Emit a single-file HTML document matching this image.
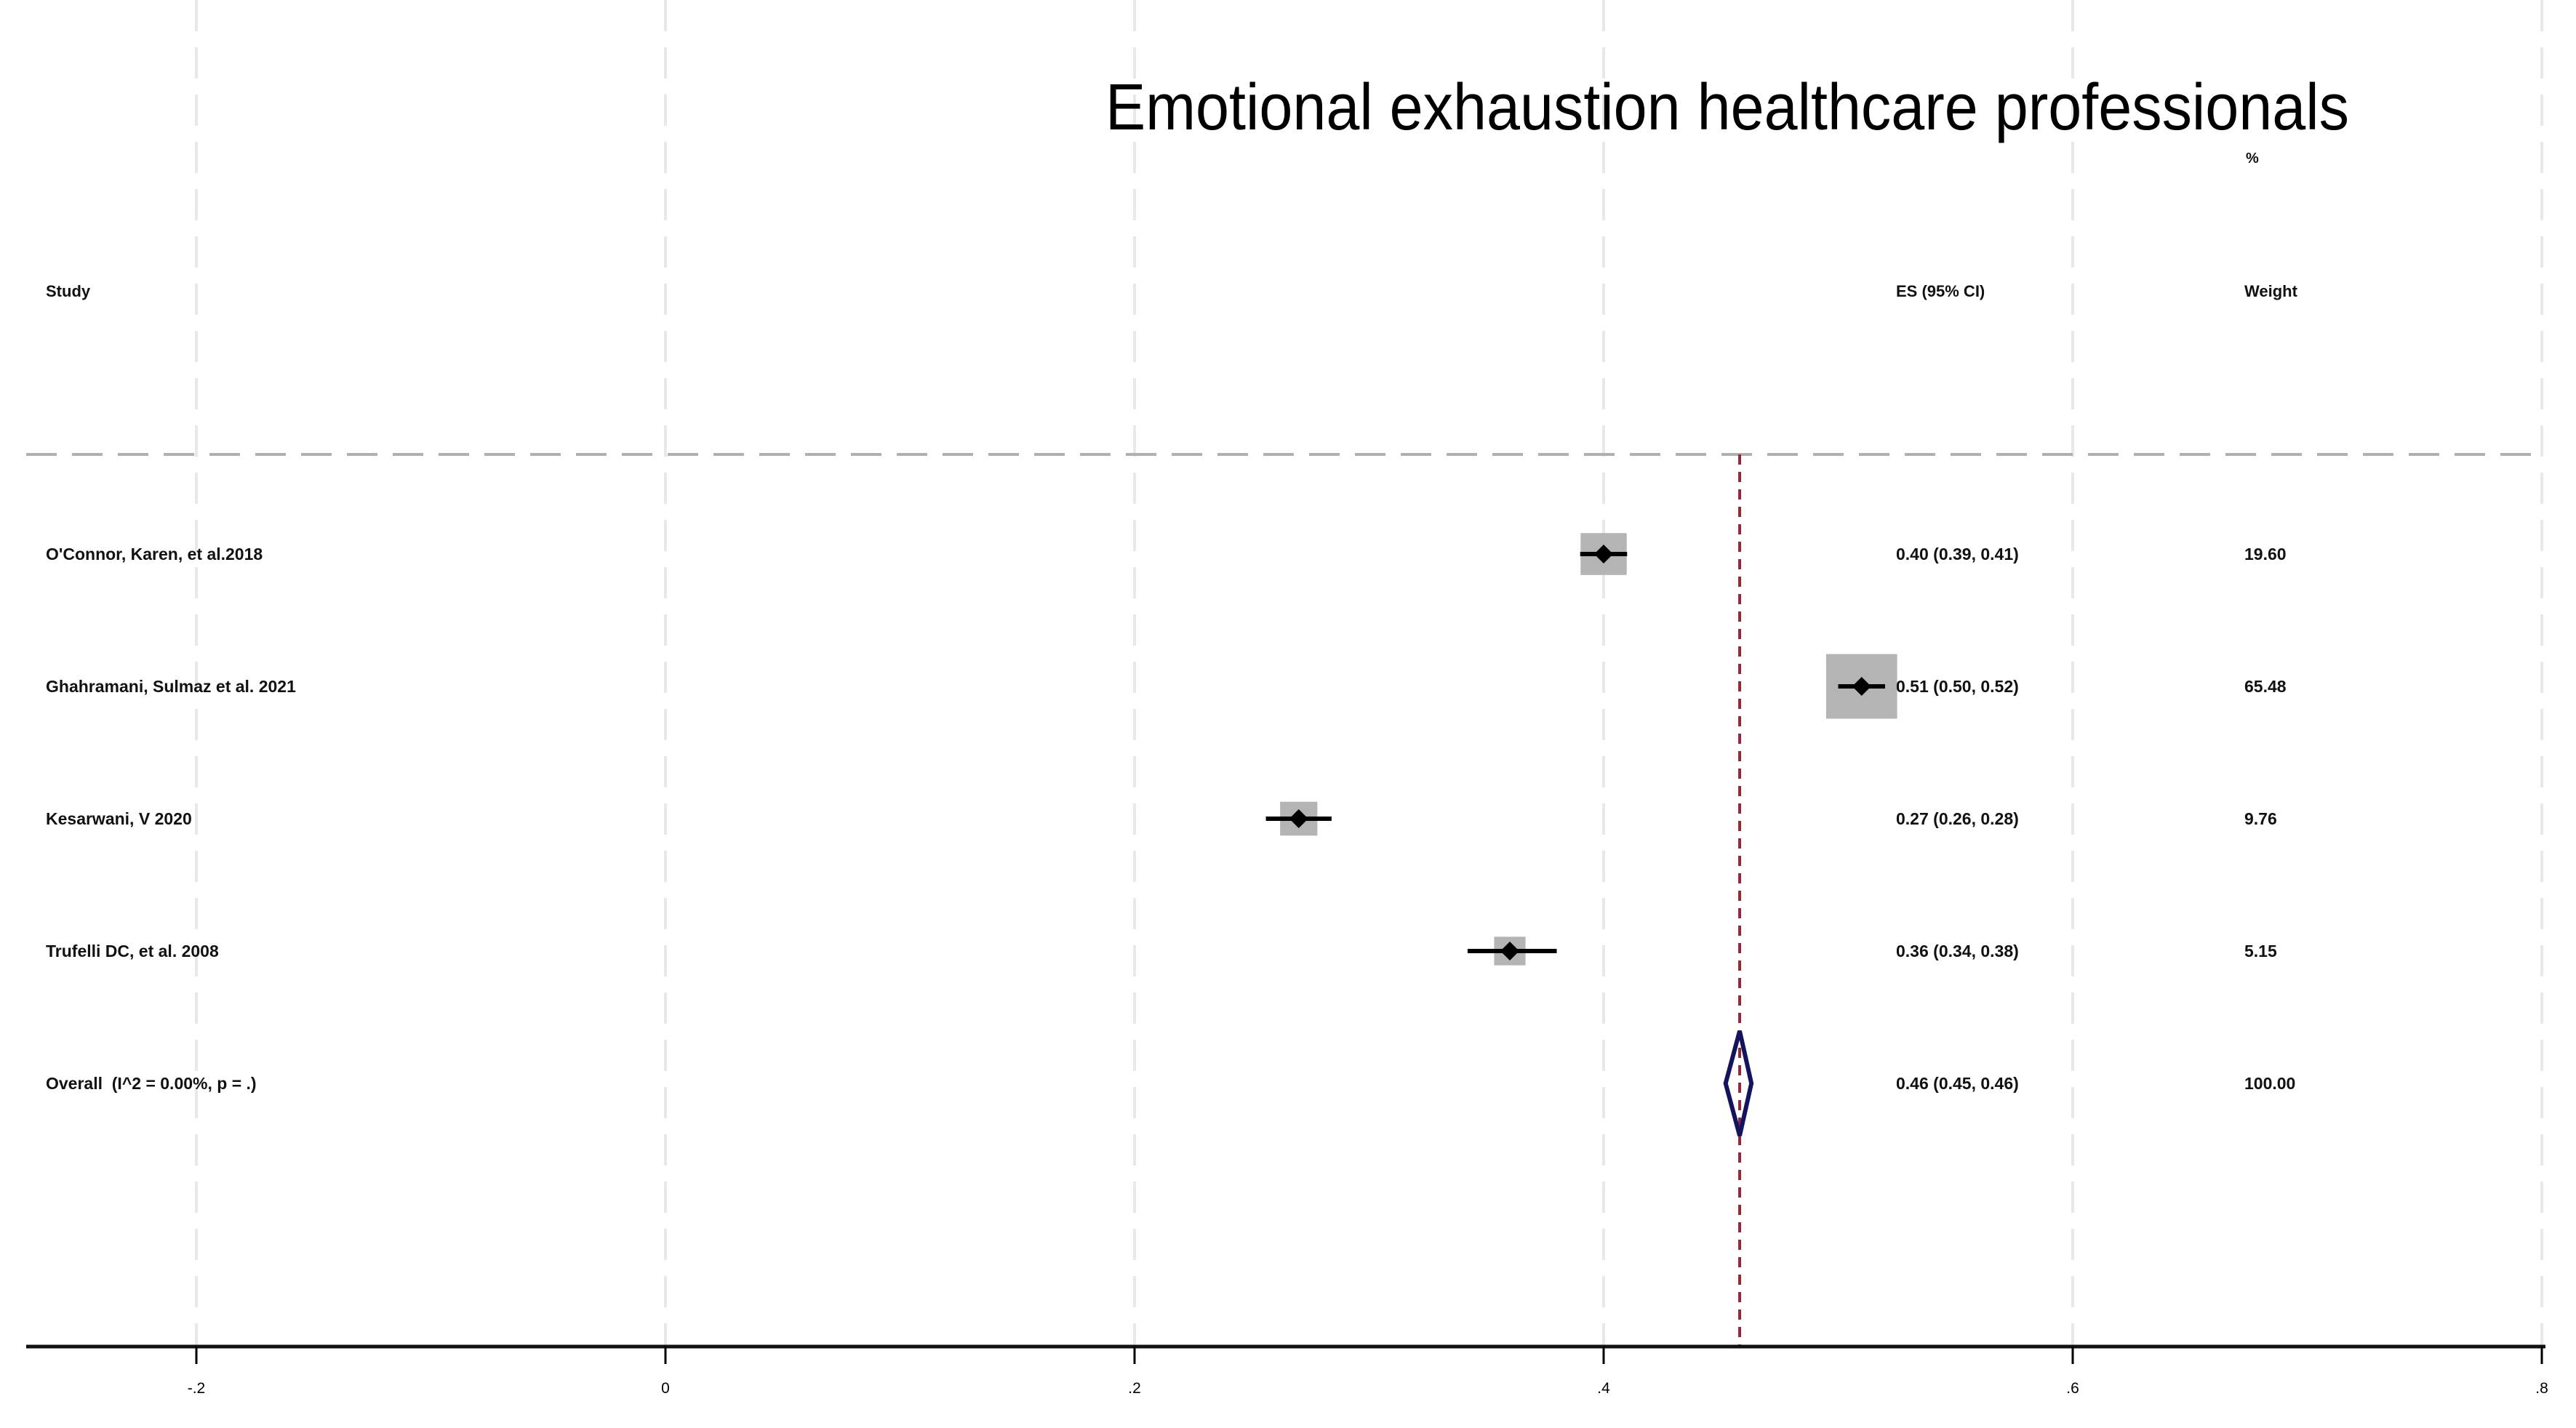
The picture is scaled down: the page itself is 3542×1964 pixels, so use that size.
<!DOCTYPE html>
<html><head><meta charset="utf-8"><style>
html,body{margin:0;padding:0;background:#fff;}
svg{display:block;font-family:"Liberation Sans",Arial,sans-serif;}
text{white-space:pre;}
</style></head><body>
<svg id="chart" width="3542" height="1964" viewBox="0 0 3542 1964" xmlns="http://www.w3.org/2000/svg">
<rect x="0" y="0" width="3542" height="1964" fill="#fff"/>
<g id="grid"></g>
<line x1="36" y1="625" x2="3500" y2="625" stroke="#b0b0b0" stroke-width="4" stroke-dasharray="42,21"/>
<text x="1520" y="178" font-size="90" textLength="1710" lengthAdjust="spacingAndGlyphs" fill="#000">Emotional exhaustion healthcare professionals</text>
<text x="63" y="408" font-size="22" font-weight="bold" fill="#111">Study</text>
<text x="2607" y="408" font-size="22" font-weight="bold" fill="#111">ES (95% CI)</text>
<text x="3088" y="224" font-size="20" font-weight="bold" fill="#111">%</text>
<text x="3086" y="408" font-size="22" font-weight="bold" fill="#111">Weight</text>
<g id="marks"></g>
<g id="axis"></g>
</svg>
<script>
const studies = ["O'Connor, Karen, et al.2018","Ghahramani, Sulmaz et al. 2021","Kesarwani, V 2020","Trufelli DC, et al. 2008"];
const es = [0.40, 0.51, 0.27, 0.36];
const lo = [0.39, 0.50, 0.256, 0.342];
const hi = [0.41, 0.52, 0.284, 0.38];
const weights = [19.60, 65.48, 9.76, 5.15];
const overallEs = 0.458;
const overallLo = 0.452;
const overallHi = 0.463;
const overallLabel = "Overall  (I^2 = 0.00%, p = .)";
const overallText = "0.46 (0.45, 0.46)";
const tickValues = [-0.2, 0, 0.2, 0.4, 0.6, 0.8];
const tickLabels = ["-.2","0",".2",".4",".6",".8"];

const NS = "http://www.w3.org/2000/svg";
const X = v => 915 + v * 3225;
const ROW0 = 762, ROWSTEP = 182, AXIS_Y = 1852;
const rowY = i => ROW0 + i * ROWSTEP;
function mk(tag, attrs, parent){ const e=document.createElementNS(NS,tag); for(const k in attrs) e.setAttribute(k,attrs[k]); parent.appendChild(e); return e; }
const grid=document.getElementById('grid'), marks=document.getElementById('marks'), axis=document.getElementById('axis');
const fmt = v => v.toFixed(2);
const TXT = {'font-size':23,'font-weight':'bold',fill:'#111'};

tickValues.forEach((v,i)=>{
  const g = mk('line',{x1:X(v),x2:X(v),y1:0,y2:AXIS_Y,stroke:'#e8e8e8','stroke-width':4,'stroke-dasharray':'43,22'},grid);
  
  
});

studies.forEach((s,i)=>{
  const y = rowY(i);
  const t = mk('text',Object.assign({x:63,y:y+8},TXT),marks); t.textContent=s;
  
  
  const side = 8.5*Math.sqrt(weights[i])+20;
  const b = mk('rect',{x:X(es[i])-side*0.55,y:y-side/2,width:side*1.1,height:side,fill:'#b4b4b4'},marks);
  
  
  const l = mk('line',{x1:X(lo[i]),x2:X(hi[i]),y1:y,y2:y,stroke:'#000','stroke-width':6},marks);
  
  
  const cx=X(es[i]);
  const d = mk('polygon',{points:`${cx-13},${y} ${cx},${y-13} ${cx+13},${y} ${cx},${y+13}`,fill:'#000'},marks);
  
  
  const e = mk('text',Object.assign({x:2607,y:y+8},TXT),marks); e.textContent=`${fmt(es[i])} (${fmt(lo[i])}, ${fmt(hi[i])})`;
  
  
  const w = mk('text',Object.assign({x:3086,y:y+8},TXT),marks); w.textContent=fmt(weights[i]);
  
  
});

const oy = rowY(studies.length);
const rl = mk('line',{x1:X(overallEs),x2:X(overallEs),y1:625,y2:AXIS_Y,stroke:'#8b2a3a','stroke-width':4,'stroke-dasharray':'14,10'},marks);


const od = mk('polygon',{points:`${X(overallLo)},${oy} ${X(overallEs)},${oy-72} ${X(overallHi)},${oy} ${X(overallEs)},${oy+72}`,fill:'none',stroke:'#14145e','stroke-width':6},marks);


const ol = mk('text',Object.assign({x:63,y:oy+8},TXT),marks); ol.textContent=overallLabel;


const oe = mk('text',Object.assign({x:2607,y:oy+8},TXT),marks); oe.textContent=overallText;


const ow = mk('text',Object.assign({x:3086,y:oy+8},TXT),marks); ow.textContent="100.00";



const ax = mk('line',{x1:36,x2:3500,y1:AXIS_Y,y2:AXIS_Y,stroke:'#111','stroke-width':5},axis);


tickValues.forEach((v,i)=>{
  const t = mk('line',{x1:X(v),x2:X(v),y1:AXIS_Y,y2:AXIS_Y+24,stroke:'#000','stroke-width':3},axis);
  
  
  const lb = mk('text',{x:X(v),y:1916,'font-size':21,'text-anchor':'middle',fill:'#000'},axis); lb.textContent=tickLabels[i];
  
  
});
</script>
</body></html>
